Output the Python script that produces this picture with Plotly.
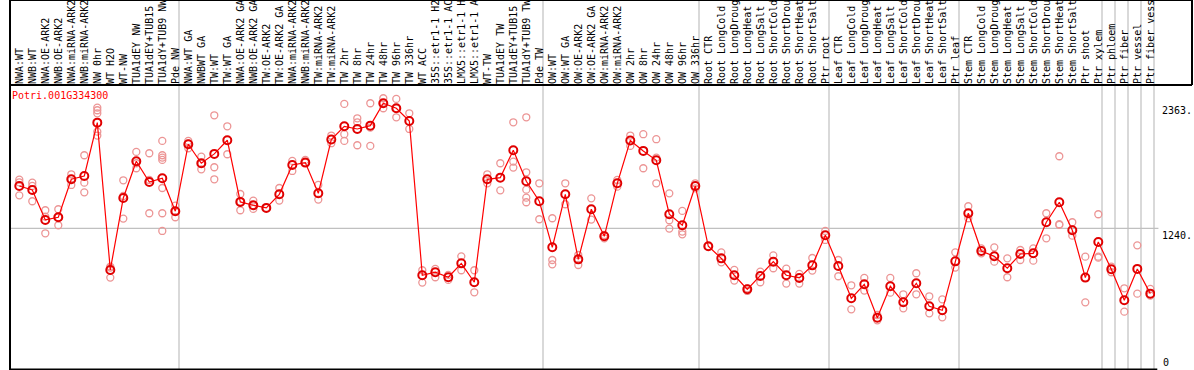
import plotly.graph_objects as go

gene = "Potri.001G334300"

labels = ["NWA:WT", "NWB:WT", "NWA:OE-ARK2", "NWB:OE-ARK2", "NWA:miRNA-ARK2", "NWB:miRNA-ARK2",
          "NW 0hr", "WT H2O", "WT-NW", "TUA1dEY NW", "TUA1dEY+TUB15", "TUA1dY+TUB9 NW", "Pde NW",
          "NWA:WT GA", "NWBWT GA", "TW:WT", "TW:WT GA", "NWA:OE-ARK2 GA", "NWB:OE-ARK2 GA",
          "TW:OE-ARK2", "TW:OE-ARK2 GA", "NWA:miRNA-ARK2", "NWB:miRNA-ARK2", "TW:miRNA-ARK2",
          "TW:miRNA-ARK2", "TW 2hr", "TW 8hr", "TW 24hr", "TW 48hr", "TW 96hr", "TW 336hr", "WT ACC",
          "35S::etr1-1 H2", "35S::etr1-1 AC", "LMX5::etr1-1 H", "LMX5::etr1-1 A", "WT-TW",
          "TUA1dEY TW", "TUA1dEY+TUB15", "TUA1dY+TUB9 TW", "Pde TW",
          "OW:WT", "OW:WT GA", "OW:OE-ARK2", "OW:OE-ARK2 GA", "OW:miRNA-ARK2", "OW:miRNA-ARK2",
          "OW 2hr", "OW 8hr", "OW 24hr", "OW 48hr", "OW 96hr", "OW 336hr",
          "Root CTR", "Root LongCold", "Root LongDroug", "Root LongHeat", "Root LongSalt",
          "Root ShortCold", "Root ShortDrou", "Root ShortHeat", "Root ShortSalt", "Ptr root",
          "Leaf CTR", "Leaf LongCold", "Leaf LongDroug", "Leaf LongHeat", "Leaf LongSalt",
          "Leaf ShortCold", "Leaf ShortDrou", "Leaf ShortHeat", "Leaf ShortSalt", "Ptr leaf",
          "Stem CTR", "Stem LongCold", "Stem LongDroug", "Stem LongHeat", "Stem LongSalt",
          "Stem ShortCold", "Stem ShortDrou", "Stem ShortHeat", "Stem ShortSalt", "Ptr shoot",
          "Ptr xylem", "Ptr phloem", "Ptr fiber", "Ptr vessel", "Ptr fiber vess"]

means = [1620, 1584, 1315, 1339, 1680, 1710, 2189, 866, 1512, 1842, 1656, 1689, 1393,
         1995, 1824, 1908, 2031, 1477, 1447, 1423, 1545, 1809, 1830, 1554, 2037, 2156, 2132,
         2162, 2363, 2318, 2204, 818, 845, 800, 925, 755, 1680, 1695, 1941, 1662, 1483,
         1069, 1545, 961, 1411, 1168, 1644, 2028, 1935, 1851, 1366, 1267, 1620,
         1078, 970, 818, 692, 812, 940, 818, 794, 907, 1177,
         901, 611, 737, 437, 719, 575, 746, 539, 503, 943,
         1375, 1036, 988, 881, 1009, 1015, 1294, 1474, 1222, 797, 1117,
         872, 593, 875, 653]

replicates = [
    [1677, 1653, 1536], [1650, 1620, 1483], [1402, 1345, 1195], [1411, 1339, 1267],
    [1725, 1683, 1629], [1896, 1650, 1563], [2324, 2300, 2273, 2108, 2073], [896, 887, 797],
    [1671, 1530, 1327], [1926, 1824, 1779], [1914, 1674, 1375],
    [2025, 1896, 1875, 1854, 1602, 1375, 1216], [1444, 1393, 1339],
    [2025, 2001, 1959], [1884, 1818, 1770], [2255, 1788, 1680], [2156, 1905],
    [1548, 1480, 1402], [1489, 1447, 1414], [1423], [1602, 1489], [1845, 1755], [1854, 1830],
    [1629, 1498], [2073, 2004], [2357, 2085, 2025], [2228, 2192, 1986], [2363, 2144, 1980],
    [2408, 2363, 2318], [2402, 2318, 2237], [2273, 2132], [863, 752], [875, 800], [821, 776],
    [988, 863], [863, 665], [1725, 1644], [1824, 1581], [2192, 1839, 1785],
    [2237, 1743, 1587, 1515, 1474], [1644, 1321],
    [1330, 955, 916], [1644, 1456], [1000, 910], [1509, 1318], [1180, 1150], [1674, 1614],
    [2073, 1980], [2085, 1779], [2040, 1875, 1644], [1554, 1312, 1237], [1396, 1210, 1186],
    [1644, 1599],
    [1078], [1024, 934], [866, 770], [701, 677], [851, 755], [997, 881], [878, 743], [830, 743],
    [973, 860], [1216, 1135],
    [955, 809], [728, 512], [794, 680], [461, 413], [794, 662], [647, 521], [836, 647],
    [629, 476], [602, 440], [1024, 887],
    [1438, 1330], [1060, 1015], [1069, 940], [970, 800], [1045, 955], [1060, 949],
    [1375, 1150], [1887, 1276, 1270], [1294, 1174], [985, 575], [1366, 985, 976],
    [896, 845], [701, 491], [1087, 653], [695, 635],
]

group_ends = [13, 41, 53, 63, 73, 84, 85, 86, 87, 88]
ytick_vals = [1240, 2363]
ytick_text = ["1240.", "2363."]
grid_value = 1240

idx = list(range(1, len(labels) + 1))
rep_x, rep_y = [], []
for i, reps in zip(idx, replicates):
    for v in reps:
        rep_x.append(i)
        rep_y.append(v)

x_lo = 0.285
x_hi = x_lo + 1145 / 13.0
y_lo, y_hi = -33, 2527
mono = "DejaVu Sans Mono"

fig = go.Figure()
fig.add_trace(go.Scatter(
    x=rep_x, y=rep_y, mode="markers",
    marker=dict(symbol="circle-open", size=7, color="#EC9595", line=dict(width=1.3, color="#EC9595")),
    hoverinfo="y", showlegend=False))
fig.add_trace(go.Scatter(
    x=idx, y=means, mode="lines+markers",
    line=dict(color="#FF0000", width=1.2),
    marker=dict(symbol="circle-open", size=8, color="#E00000", line=dict(width=2, color="#E00000")),
    hoverinfo="y", showlegend=False))

top_paper = 1 + 85 / 285.0
shapes = []
for g in group_ends:
    xp = g / (x_hi - x_lo)
    shapes.append(dict(type="line", xref="paper", yref="paper", x0=xp, x1=xp, y0=0, y1=top_paper,
                       line=dict(color="#C0C0C0", width=1.2), layer="below"))
shapes.append(dict(type="line", xref="paper", yref="y", x0=0, x1=1.003, y0=grid_value, y1=grid_value,
                   line=dict(color="#C0C0C0", width=1.2), layer="below"))
black = dict(color="black", width=2)
right_box = (1192 - 10) / 1145.0
shapes += [
    dict(type="line", xref="paper", yref="paper", x0=0, x1=0, y0=0, y1=top_paper, line=black),
    dict(type="line", xref="paper", yref="paper", x0=0, x1=right_box, y0=top_paper, y1=top_paper, line=black),
    dict(type="line", xref="paper", yref="paper", x0=0, x1=right_box, y0=1, y1=1, line=black),
    dict(type="line", xref="paper", yref="paper", x0=right_box, x1=right_box, y0=1, y1=top_paper, line=black),
    dict(type="line", xref="paper", yref="paper", x0=0, x1=1.002, y0=0.002, y1=0.002, line=black),
]

fig.update_layout(
    width=1194, height=370,
    margin=dict(l=10, r=39, t=85, b=0),
    paper_bgcolor="white", plot_bgcolor="white",
    shapes=shapes,
    xaxis=dict(range=[x_lo, x_hi], side="top", tickmode="array", tickvals=idx, ticktext=labels,
               tickangle=-90, showgrid=False, zeroline=False, showline=False, ticks="",
               tickfont=dict(family=mono, size=10, color="black")),
    yaxis=dict(range=[y_lo, y_hi], side="right", tickmode="array", tickvals=ytick_vals,
               ticktext=ytick_text, ticklabelposition="outside bottom", showgrid=False,
               zeroline=False, showline=False, ticks="", ticklabelstandoff=6,
               tickfont=dict(family=mono, size=10, color="black")),
    annotations=[
        dict(text=gene, xref="paper", yref="paper", x=0, y=1, xanchor="left", yanchor="top",
             showarrow=False, font=dict(family=mono, size=10, color="red"), yshift=-3),
        dict(text="0", xref="paper", yref="paper", x=(1161 - 10) / 1145.0, y=0, xanchor="left",
             yanchor="bottom", showarrow=False, font=dict(family=mono, size=10, color="black")),
    ],
)

fig.write_html("out.html", config={"displayModeBar": False},
               post_script="document.body.style.margin='0';document.body.style.overflow='hidden';")
